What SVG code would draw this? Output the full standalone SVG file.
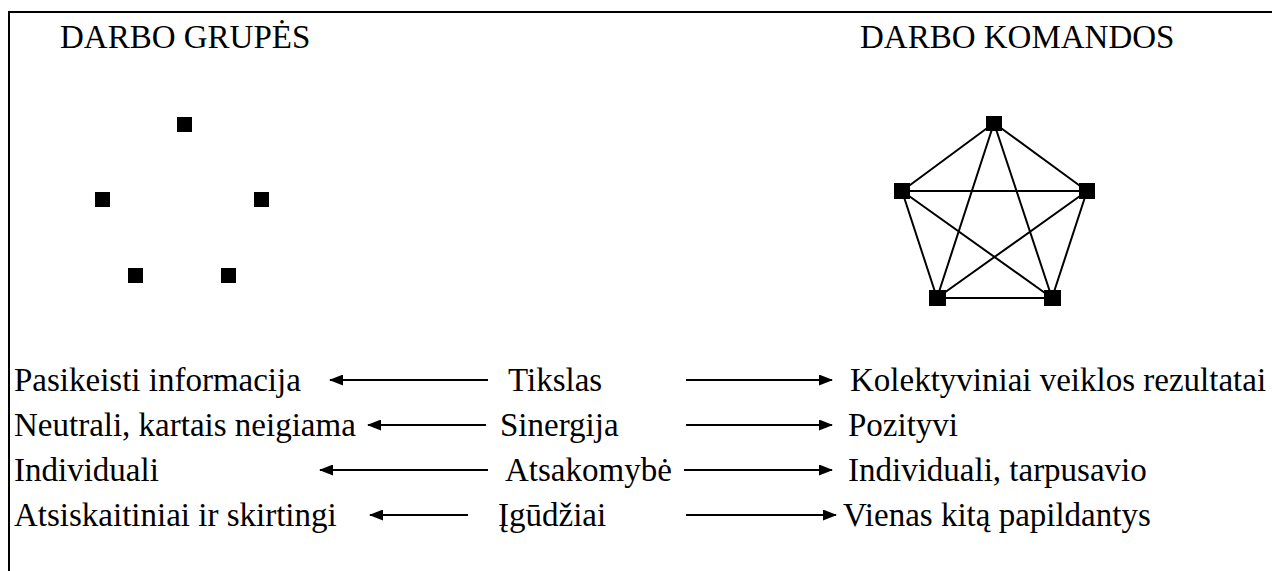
<svg xmlns="http://www.w3.org/2000/svg" width="1272" height="571" viewBox="0 0 1272 571">
<style>
.t{font-family:"Liberation Serif","Times New Roman",serif;font-size:33px;fill:#000}
.c{stroke:#000;stroke-width:2;fill:none}
.a{stroke:#000;stroke-width:2;fill:none;marker-end:url(#ah)}
.n{fill:#000}
</style>
<defs>
<marker id="ah" viewBox="0 0 14 11" refX="13" refY="5.5" markerWidth="14" markerHeight="11" markerUnits="userSpaceOnUse" orient="auto">
<path d="M0,0 L14,5.5 L0,11 Z" fill="#000"/>
</marker>
</defs>
<rect width="1272" height="571" fill="#fff"/>
<g id="frame">
<path class="c" d="M9,571 L9,12 L1272,12"/>
</g>
<g id="header-groups"><text class="t" x="60" y="48">DARBO GRUPĖS</text></g>
<g id="header-teams"><text class="t" x="860" y="48">DARBO KOMANDOS</text></g>
<g id="group-nodes">
<rect class="n" x="177" y="117" width="15" height="15"/>
<rect class="n" x="95" y="192" width="15" height="15"/>
<rect class="n" x="254" y="192" width="15" height="15"/>
<rect class="n" x="128" y="268" width="15" height="15"/>
<rect class="n" x="221" y="268" width="15" height="15"/>
</g>
<g id="team-connectors">
<path class="c" d="M994,123 L902,191 M994,123 L1087,191 M994,123 L937,298 M994,123 L1052,298 M902,191 L1087,191 M902,191 L937,298 M902,191 L1052,298 M1087,191 L937,298 M1087,191 L1052,298 M937,298 L1052,298"/>
</g>
<g id="team-nodes">
<rect class="n" x="986" y="116" width="16" height="15"/>
<rect class="n" x="894" y="183" width="16" height="16"/>
<rect class="n" x="1079" y="183" width="16" height="16"/>
<rect class="n" x="929" y="290" width="17" height="16"/>
<rect class="n" x="1044" y="290" width="17" height="16"/>
</g>
<g id="connectors">
<line class="a" x1="488" y1="380" x2="330" y2="380"/>
<line class="a" x1="686" y1="380" x2="832" y2="380"/>
<line class="a" x1="486" y1="425" x2="368" y2="425"/>
<line class="a" x1="686" y1="425" x2="832" y2="425"/>
<line class="a" x1="488" y1="470" x2="320" y2="470"/>
<line class="a" x1="684" y1="470" x2="832" y2="470"/>
<line class="a" x1="468" y1="515" x2="370" y2="515"/>
<line class="a" x1="686" y1="515" x2="836" y2="515"/>
</g>
<g id="row1">
<text class="t" x="14" y="391">Pasikeisti informacija</text>
<text class="t" x="508" y="391">Tikslas</text>
<text class="t" x="850" y="391">Kolektyviniai veiklos rezultatai</text>
</g>
<g id="row2">
<text class="t" x="14" y="436">Neutrali, kartais neigiama</text>
<text class="t" x="500" y="436">Sinergija</text>
<text class="t" x="848" y="436">Pozityvi</text>
</g>
<g id="row3">
<text class="t" x="14" y="481">Individuali</text>
<text class="t" x="505" y="481">Atsakomybė</text>
<text class="t" x="848" y="481">Individuali, tarpusavio</text>
</g>
<g id="row4">
<text class="t" x="14" y="526">Atsiskaitiniai ir skirtingi</text>
<text class="t" x="498" y="526">Įgūdžiai</text>
<text class="t" x="843" y="526">Vienas kitą papildantys</text>
</g>
</svg>
